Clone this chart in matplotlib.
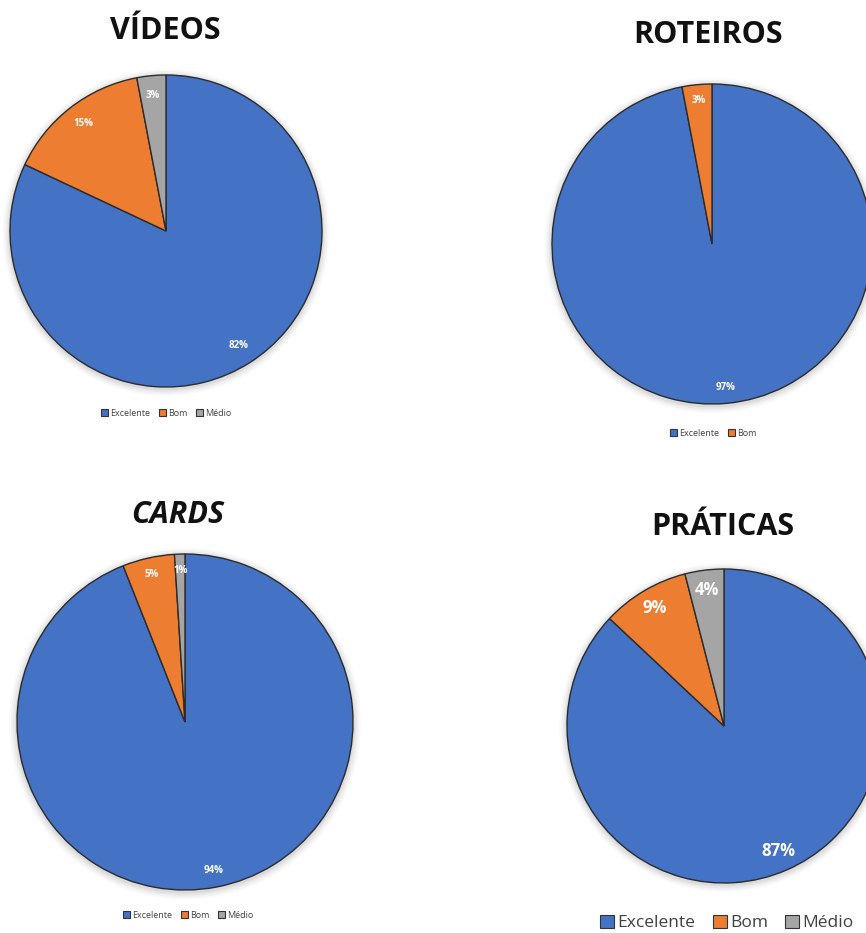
import matplotlib
matplotlib.use("Agg")
import matplotlib.pyplot as plt
from matplotlib.patches import Patch, Circle

plt.rcParams['font.family'] = ['Open Sans', 'DejaVu Sans']

categories = ["Excelente", "Bom", "Médio"]
colors = ["#4472C4", "#ED7D31", "#A5A5A5"]

titles = ["VÍDEOS", "ROTEIROS", "CARDS", "PRÁTICAS"]
videos = [82, 15, 3]
roteiros = [97, 3]
cards = [94, 5, 1]
praticas = [87, 9, 4]
series = [videos, roteiros, cards, praticas]

W, H = 866, 933
fig = plt.figure(figsize=(W / 100, H / 100), dpi=100)
fig.patch.set_facecolor("white")

# layout in pixels: (cx, cy, r, title_x, title_y, legend_x, legend_y, title_italic, pct_size, legend_size, pctdist)
layout = [
    (166, 231, 156, 165, 31, 166, 413, False, 7, 6.5, 0.87),
    (712, 244, 160, 708, 35, 713, 433, False, 7, 6.5, 0.9),
    (185, 722, 168, 178, 515, 188, 915, True, 7, 6.5, 0.9),
    (724, 726, 157, 723, 527, 727, 923, False, 12, 12.5, 0.87),
]

for vals, title, (cx, cy, r, tx, ty, lx, ly, ital, psz, lsz, pd) in zip(series, titles, layout):
    ax = fig.add_axes([(cx - r) / W, 1 - (cy + r) / H, 2 * r / W, 2 * r / H])
    ax.axis("off")
    # soft shadow
    for i, a in enumerate([0.05, 0.04, 0.03, 0.02]):
        ax.add_patch(Circle((0, -0.01), 1.0 + 0.012 * (i + 1), color="black", alpha=a, lw=0, zorder=0, clip_on=False))
    n = len(vals)
    wedges, texts, autotexts = ax.pie(
        vals, colors=colors[:n], startangle=90, counterclock=False,
        autopct=lambda p: f"{p:.0f}%", pctdistance=pd, radius=1,
        wedgeprops=dict(edgecolor="#2b2b2b", linewidth=1.0),
        textprops=dict(color="white", fontsize=psz, fontweight="bold"),
    )
    ax.set_xlim(-1, 1)
    ax.set_ylim(-1, 1)
    ax.set_aspect("equal")
    for w in wedges:
        w.set_zorder(2)
        w.set_clip_on(False)
    for t in autotexts:
        t.set_zorder(3)
    fig.text(tx / W, 1 - ty / H, title, ha="center", va="center", fontsize=22,
             fontweight="bold", fontstyle="italic" if ital else "normal", color="#111111")
    handles = [Patch(facecolor=colors[i], edgecolor="#333333", linewidth=0.8, label=categories[i]) for i in range(n)]
    fig.legend(handles=handles, loc="center", bbox_to_anchor=(lx / W, 1 - ly / H), ncol=n,
               frameon=False, fontsize=lsz, handlelength=0.8, handleheight=0.8,
               handletextpad=0.2, columnspacing=1.0, labelcolor="#404040")

fig.savefig("out.png", dpi=100, facecolor="white")
